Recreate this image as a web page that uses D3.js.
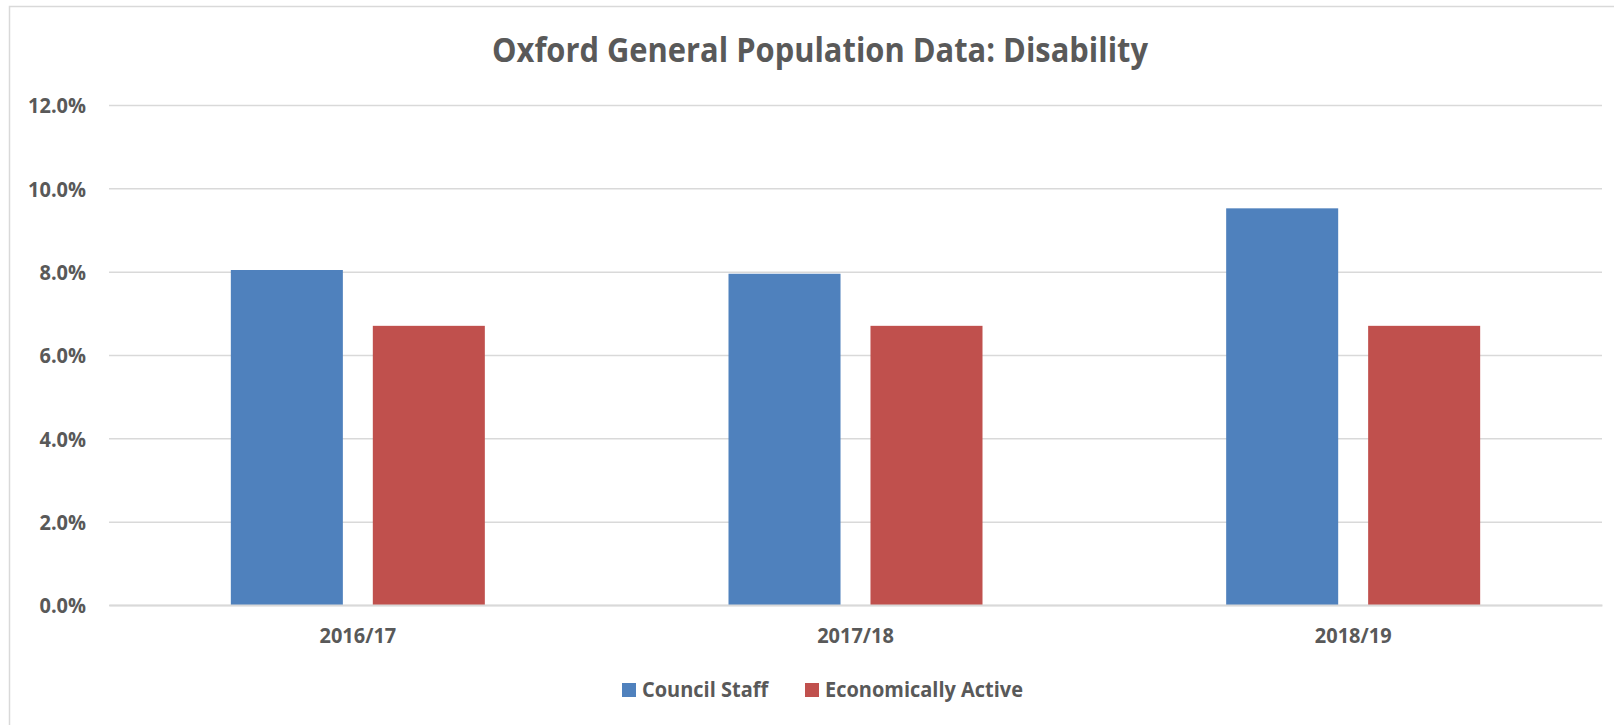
<!DOCTYPE html>
<html>
<head>
<meta charset="utf-8">
<script src="https://cdn.jsdelivr.net/npm/d3@7"></script>
<style>
  html, body { margin: 0; padding: 0; background: #fff; }
  svg { display: block; }
</style>
</head>
<body>
<div id="chart"></div>
<script>
// data
const categories = ["2016/17", "2017/18", "2018/19"];
const seriesNames = ["Council Staff", "Economically Active"];
const councilStaff = [8.04, 7.95, 9.52];
const economicallyActive = [6.70, 6.70, 6.70];
const yTicks = [0, 2, 4, 6, 8, 10, 12];
const titleText = "Oxford General Population Data: Disability";

const colors = ["#4F81BD", "#C0504D"];
const textColor = "#595959";
const gridColor = "#D9D9D9";
const fontFam = "'Open Sans', 'Noto Sans', sans-serif";

const width = 1614, height = 725;
const margin = { top: 105, bottom: 120, left: 109, right: 12 };

const svg = d3.select("#chart").append("svg")
  .attr("width", width).attr("height", height);

// outer chart border (only left and top visible in the picture)
svg.append("rect")
  .attr("x", 9.5).attr("y", 6.5)
  .attr("width", 1700).attr("height", 800)
  .attr("fill", "#fff")
  .attr("stroke", gridColor)
  .attr("stroke-width", 1.5);

// scales
const x0 = d3.scaleBand()
  .domain(categories)
  .range([margin.left, width - margin.right])
  .paddingInner(0).paddingOuter(0);

const groupW = 254;
const x1 = d3.scaleBand()
  .domain(seriesNames)
  .range([0, groupW])
  .paddingInner(0.211).paddingOuter(0);

const y = d3.scaleLinear()
  .domain([0, 12])
  .range([height - margin.bottom, margin.top]);

// grid + y axis labels
const axisY = d3.axisLeft(y)
  .tickValues(yTicks)
  .tickSize(-(width - margin.left - margin.right))
  .tickPadding(23)
  .tickFormat(d => d.toFixed(1) + "%");

const gy = svg.append("g")
  .attr("transform", "translate(" + margin.left + ",0)")
  .call(axisY);
gy.select(".domain").remove();
gy.selectAll(".tick line").attr("stroke", gridColor).attr("stroke-width", 1.5);
gy.selectAll(".tick text")
  .attr("fill", textColor)
  .attr("font-family", fontFam)
  .attr("font-weight", "bold")
  .attr("font-size", "22px")
  .attr("dy", "0.36em");

// bars
const rows = categories.map((c, i) => ({ cat: c, vals: [councilStaff[i], economicallyActive[i]] }));

const groups = svg.append("g")
  .selectAll("g")
  .data(rows)
  .enter()
  .append("g")
  .attr("transform", d => "translate(" + (x0(d.cat) + (x0.bandwidth() - groupW) / 2) + ",0)");

groups.selectAll("rect")
  .data(d => d.vals.map((v, j) => ({ name: seriesNames[j], value: v, j: j })))
  .enter()
  .append("rect")
  .attr("x", d => x1(d.name))
  .attr("y", d => y(d.value))
  .attr("width", x1.bandwidth())
  .attr("height", d => y(0) - y(d.value))
  .attr("fill", d => colors[d.j]);

// x axis
const axisX = d3.axisBottom(x0).tickSize(0).tickPadding(22);
const gx = svg.append("g")
  .attr("transform", "translate(0," + y(0) + ")")
  .call(axisX);
gx.select(".domain").attr("stroke", gridColor).attr("stroke-width", 2);
gx.selectAll(".tick text")
  .attr("fill", textColor)
  .attr("font-family", fontFam)
  .attr("font-weight", "bold")
  .attr("font-size", "22px");

// title
svg.append("text")
  .attr("class", "title")
  .attr("x", 820).attr("y", 62)
  .attr("text-anchor", "middle")
  .attr("fill", textColor)
  .attr("font-family", fontFam)
  .attr("font-weight", "bold")
  .attr("font-size", "34px")
  .text(titleText);

// legend
const legendX = [622, 805];
const legend = svg.append("g").selectAll("g")
  .data(seriesNames)
  .enter()
  .append("g")
  .attr("transform", (d, i) => "translate(" + legendX[i] + ",683)");

legend.append("rect")
  .attr("width", 14).attr("height", 14)
  .attr("fill", (d, i) => colors[i]);

legend.append("text")
  .attr("x", 20).attr("y", 14)
  .attr("fill", textColor)
  .attr("font-family", fontFam)
  .attr("font-weight", "bold")
  .attr("font-size", "22px")
  .text(d => d);

// squeeze the text a bit so it sits like the narrower original font
const titleNode = svg.select(".title").node();
const k = 656 / titleNode.getComputedTextLength();
svg.selectAll("text").each(function() {
  const len = this.getComputedTextLength();
  if (len > 0) {
    d3.select(this)
      .attr("textLength", len * k)
      .attr("lengthAdjust", "spacingAndGlyphs");
  }
});
</script>
</body>
</html>
